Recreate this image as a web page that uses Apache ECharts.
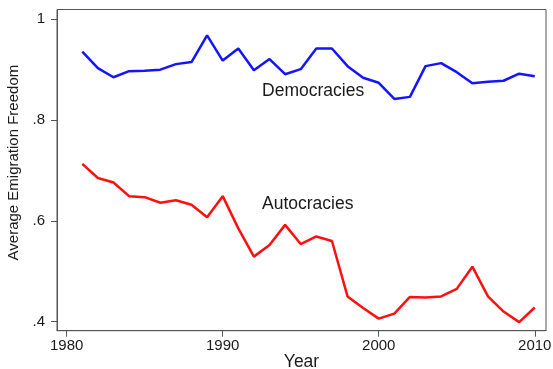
<!DOCTYPE html>
<html>
<head>
<meta charset="utf-8">
<script src="https://cdn.jsdelivr.net/npm/echarts@6/dist/echarts.min.js"></script>
<style>
  html, body { margin: 0; padding: 0; background: #fff; }
  #chart { width: 553px; height: 369px; }
</style>
</head>
<body>
<div id="chart"></div>
<script>
// Average emigration freedom by regime type, 1981-2010
const years = [1981,1982,1983,1984,1985,1986,1987,1988,1989,1990,
               1991,1992,1993,1994,1995,1996,1997,1998,1999,2000,
               2001,2002,2003,2004,2005,2006,2007,2008,2009,2010];
const democracies = [0.936,0.903,0.885,0.897,0.898,0.900,0.911,0.915,0.968,0.918,
                     0.942,0.899,0.921,0.891,0.901,0.942,0.942,0.907,0.884,0.874,
                     0.842,0.846,0.907,0.913,0.895,0.873,0.876,0.878,0.892,0.887];
const autocracies = [0.713,0.685,0.676,0.649,0.647,0.636,0.641,0.632,0.607,0.649,
                     0.585,0.529,0.552,0.592,0.554,0.569,0.560,0.450,0.427,0.406,
                     0.416,0.449,0.448,0.450,0.465,0.509,0.450,0.420,0.399,0.428];
const xTicks = [1980, 1990, 2000, 2010];
const yTicks = [0.4, 0.6, 0.8, 1.0];
const seriesLabels = [
  { name: 'Democracies', at: [1992.52, 0.858] },
  { name: 'Autocracies', at: [1992.52, 0.634] }
];

const font = '"Liberation Sans", Arial, sans-serif';
const textColor = '#1a1a1a';
const axisColor = '#555';

function pairs(ys) { return years.map((y, i) => [y, ys[i]]); }

function yTickText(v) {
  if (Math.abs(v - 1) < 1e-9) return '1';
  return v.toFixed(1).replace(/^0/, '');
}

const chart = echarts.init(document.getElementById('chart'), null, { renderer: 'canvas' });
chart.setOption({
  animation: false,
  backgroundColor: '#fff',
  grid: { left: 57, right: 7, top: 9.5, bottom: 38.3, containLabel: false, outerBoundsMode: 'none',
          show: true, borderColor: axisColor, borderWidth: 1 },
  xAxis: {
    type: 'value', min: 1979.38, max: 2010.72,
    name: 'Year', nameLocation: 'middle', nameGap: 22, nameMoveOverlap: false,
    nameTextStyle: { fontFamily: font, fontSize: 17.5, color: textColor },
    axisLine: { show: true, lineStyle: { color: axisColor, width: 1 } },
    axisTick: { show: true, length: 6, lineStyle: { color: axisColor }, customValues: xTicks },
    axisLabel: { fontFamily: font, fontSize: 15, color: textColor, margin: 8, customValues: xTicks,
                 formatter: v => String(v) },
    splitLine: { show: false }
  },
  yAxis: {
    type: 'value', min: 0.382, max: 1.0194,
    name: 'Average Emigration Freedom', nameLocation: 'middle', nameGap: 16,
    nameTextStyle: { fontFamily: font, fontSize: 15, color: textColor, padding: [0, 0, 0, 15] },
    axisLine: { show: true, lineStyle: { color: axisColor, width: 1 } },
    axisTick: { show: true, length: 6, lineStyle: { color: axisColor }, customValues: yTicks },
    axisLabel: { fontFamily: font, fontSize: 15, color: textColor, margin: 12, customValues: yTicks,
                 formatter: yTickText },
    splitLine: { show: false }
  },
  series: [
    {
      name: 'Democracies', type: 'line', data: pairs(democracies),
      showSymbol: false, symbol: 'none',
      lineStyle: { color: '#1414ff', width: 2.5 },
      markPoint: {
        symbol: 'circle', symbolSize: 0,
        data: [{ coord: seriesLabels[0].at, value: seriesLabels[0].name }],
        label: { show: true, position: 'right', distance: 0, formatter: seriesLabels[0].name,
                 fontFamily: font, fontSize: 17.5, color: textColor }
      }
    },
    {
      name: 'Autocracies', type: 'line', data: pairs(autocracies),
      showSymbol: false, symbol: 'none',
      lineStyle: { color: '#ff1010', width: 2.5 },
      markPoint: {
        symbol: 'circle', symbolSize: 0,
        data: [{ coord: seriesLabels[1].at, value: seriesLabels[1].name }],
        label: { show: true, position: 'right', distance: 0, formatter: seriesLabels[1].name,
                 fontFamily: font, fontSize: 17.5, color: textColor }
      }
    }
  ]
});
</script>
</body>
</html>
